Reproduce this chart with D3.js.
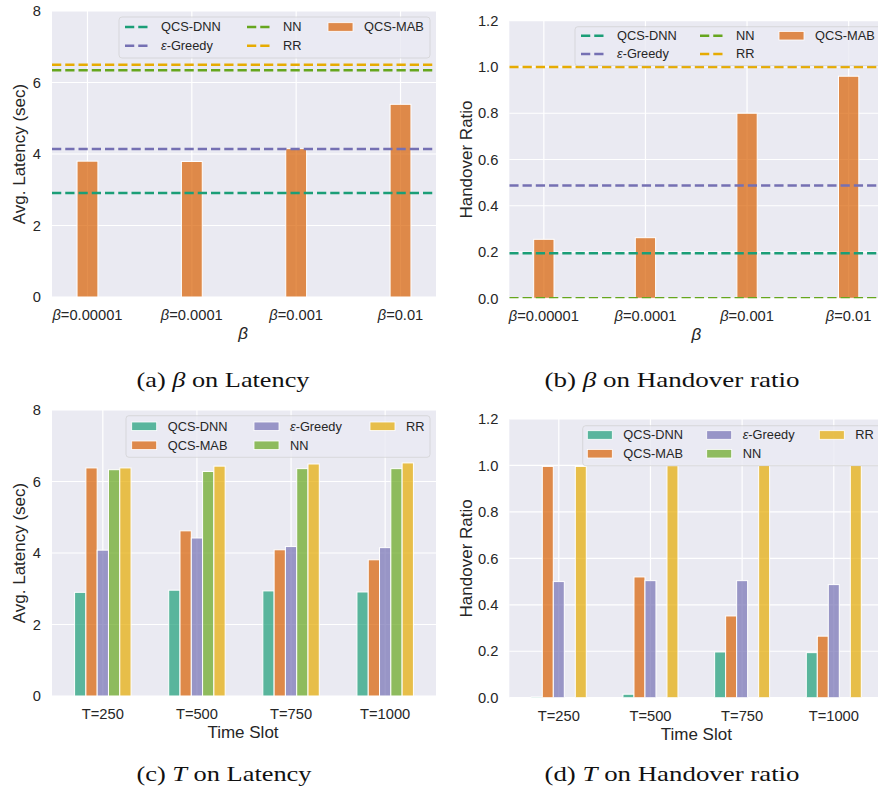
<!DOCTYPE html>
<html>
<head>
<meta charset="utf-8">
<script src="https://cdnjs.cloudflare.com/ajax/libs/d3/7.8.5/d3.min.js"></script>
<style>
  body { margin: 0; background: #fff; }
  svg { display: block; }
  text { font-family: "Liberation Sans", Arial, sans-serif; fill: #262626; }
  .cap { font-family: "Liberation Serif", "Times New Roman", serif; fill: #111; }
</style>
</head>
<body>
<svg id="fig" width="878" height="794"></svg>
<script>
// ---- data ----
const methods = ["QCS-DNN", "QCS-MAB", "ε-Greedy", "NN", "RR"]
const palette = ["#1b9e77", "#d95f02", "#7570b3", "#66a61e", "#e6ab02"]

const betaCats = ["0.00001", "0.0001", "0.001", "0.01"]
const timeCats = ["T=250", "T=500", "T=750", "T=1000"]

// (a)/(b): QCS-MAB bars per beta, baselines as horizontal reference lines
const refMethods = ["QCS-DNN", "ε-Greedy", "NN", "RR"]
const betaLatencyMAB = [3.80, 3.79, 4.15, 5.39]
const betaLatencyRefs = [2.91, 4.14, 6.34, 6.50]
const betaHandoverMAB = [0.255, 0.262, 0.80, 0.96]
const betaHandoverRefs = [0.195, 0.488, 0.0, 1.0]

// (c) latency per time slot
const latDNN = [2.90, 2.96, 2.94, 2.91]
const latMAB = [6.38, 4.62, 4.09, 3.81]
const latEps = [4.08, 4.42, 4.18, 4.15]
const latNN = [6.33, 6.28, 6.36, 6.36]
const latRR = [6.38, 6.43, 6.49, 6.52]

// (d) handover ratio per time slot
const hoDNN = [0.003, 0.015, 0.197, 0.194]
const hoMAB = [0.996, 0.52, 0.352, 0.265]
const hoEps = [0.50, 0.504, 0.504, 0.487]
const hoNN = [0, 0, 0, 0]
const hoRR = [0.996, 0.999, 1.0, 1.0]

const latTicks = [0, 2, 4, 6, 8]
const hoTicks = [0, 0.2, 0.4, 0.6, 0.8, 1.0, 1.2]

const svg = d3.select("#fig")
const defs = svg.append("defs")
const colorOf = d3.scaleOrdinal().domain(methods).range(palette)
let panelCount = 0

function greekLabel(sel, greek, rest) {
  sel.append("tspan").attr("font-style", "italic").text(greek)
  sel.append("tspan").text(rest)
}

function methodLabel(sel, name) {
  if (name.startsWith("ε")) greekLabel(sel, "ε", name.slice(1))
  else sel.text(name)
}

function drawAxes(cfg) {
  const g = svg.append("g")
  const x = d3.scaleLinear().domain(cfg.xDomain).range([cfg.left, cfg.left + cfg.width])
  const y = d3.scaleLinear().domain([0, cfg.yMax]).range([cfg.bottom, cfg.top])

  const clipId = "clip" + (panelCount++)
  defs.append("clipPath").attr("id", clipId).append("rect")
    .attr("x", cfg.left).attr("y", cfg.top)
    .attr("width", cfg.width).attr("height", cfg.bottom - cfg.top)

  g.append("rect")
    .attr("x", cfg.left).attr("y", cfg.top)
    .attr("width", cfg.width).attr("height", cfg.bottom - cfg.top)
    .attr("fill", "#eaeaf2")

  g.selectAll(".hgrid").data(cfg.yTicks).join("line")
    .attr("x1", cfg.left).attr("x2", cfg.left + cfg.width)
    .attr("y1", d => y(d)).attr("y2", d => y(d))
    .attr("stroke", "#fff").attr("stroke-width", 1.2)

  g.selectAll(".vgrid").data(d3.range(cfg.cats.length)).join("line")
    .attr("x1", d => x(d)).attr("x2", d => x(d))
    .attr("y1", cfg.top).attr("y2", cfg.bottom)
    .attr("stroke", "#fff").attr("stroke-width", 1.2)

  const yAxis = d3.axisLeft(y).tickValues(cfg.yTicks).tickSize(0).tickPadding(11)
    .tickFormat(cfg.yFmt)
  g.append("g").attr("transform", `translate(${cfg.left},0)`).call(yAxis)
    .call(a => a.select(".domain").remove())
    .selectAll("text").attr("font-size", 14.7).attr("font-family", null).attr("fill", "#262626")

  const xt = g.selectAll(".xtick").data(cfg.cats).join("text")
    .attr("x", (d, i) => x(i)).attr("y", cfg.bottom + 23)
    .attr("text-anchor", "middle").attr("font-size", 14.7)
  xt.each(function (d) {
    const t = d3.select(this)
    if (cfg.betaTicks) greekLabel(t, "β", "=" + d)
    else t.text(d)
  })

  g.append("text")
    .attr("transform", `translate(${cfg.yLabelX},${(cfg.top + cfg.bottom) / 2}) rotate(-90)`)
    .attr("text-anchor", "middle").attr("dy", "0.35em").attr("font-size", 17)
    .text(cfg.yLabel)

  const xl = g.append("text")
    .attr("x", cfg.left + cfg.xLabelDx).attr("y", cfg.bottom + 42)
    .attr("text-anchor", "middle").attr("font-size", 17)
  if (cfg.betaTicks) xl.attr("font-style", "italic").text("β")
  else xl.text("Time Slot")

  const plot = g.append("g").attr("clip-path", `url(#${clipId})`)
  return { g, plot, x, y }
}

function drawLegend(g, cfg, items) {
  const lg = g.append("g").attr("transform", `translate(${cfg.lx},${cfg.ly})`)
  lg.append("rect")
    .attr("width", cfg.lw).attr("height", cfg.lh).attr("rx", 3)
    .attr("fill", "#eaeaf2").attr("fill-opacity", 0.8)
    .attr("stroke", "#cccccc").attr("stroke-opacity", 0.8).attr("stroke-width", 0.8)
  items.forEach((it, k) => {
    const col = Math.floor(k / 2), row = k % 2
    const hx = cfg.cols[col], hy = cfg.rows[row]
    if (it.kind === "line") {
      lg.append("line")
        .attr("x1", hx).attr("x2", hx + 25).attr("y1", hy).attr("y2", hy)
        .attr("stroke", colorOf(it.name)).attr("stroke-width", 2.5)
        .attr("stroke-dasharray", "9.25,4")
    } else {
      lg.append("rect")
        .attr("x", hx).attr("y", hy - 4.3).attr("width", 25).attr("height", 8.6)
        .attr("fill", colorOf(it.name)).attr("fill-opacity", 0.7)
        .attr("stroke", "#fff").attr("stroke-width", 0.8)
    }
    lg.append("text")
      .attr("x", hx + 36).attr("y", hy).attr("dy", "0.35em")
      .attr("font-size", 12.8)
      .call(t => methodLabel(t, it.name))
  })
}

function betaPanel(cfg, mab, refs) {
  const { g, plot, x, y } = drawAxes(cfg)
  const bw = 0.2
  plot.selectAll(".bar").data(mab).join("rect")
    .attr("x", (d, i) => x(i - bw / 2))
    .attr("width", x(bw) - x(0))
    .attr("y", d => y(d)).attr("height", d => y(0) - y(d))
    .attr("fill", colorOf("QCS-MAB")).attr("fill-opacity", 0.7)
    .attr("stroke", "#fff").attr("stroke-width", 1)
  plot.selectAll(".ref").data(refs).join("line")
    .attr("x1", cfg.left).attr("x2", cfg.left + cfg.width)
    .attr("y1", d => y(d)).attr("y2", d => y(d))
    .attr("stroke", (d, i) => colorOf(refMethods[i])).attr("stroke-width", 2.5)
    .attr("stroke-dasharray", "9.25,4")
  const items = refMethods.map(n => ({ name: n, kind: "line" }))
    .concat([{ name: "QCS-MAB", kind: "bar" }])
  drawLegend(g, cfg, items)
}

function timePanel(cfg, series) {
  const { g, plot, x, y } = drawAxes(cfg)
  const bw = 0.12
  series.forEach((vals, m) => {
    plot.append("g").selectAll("rect").data(vals).join("rect")
      .attr("x", (d, i) => x(i + (m - 2) * bw - bw / 2))
      .attr("width", x(bw) - x(0))
      .attr("y", d => y(d)).attr("height", d => y(0) - y(d))
      .attr("fill", palette[m]).attr("fill-opacity", 0.7)
      .attr("stroke", "#fff").attr("stroke-width", 1)
  })
  drawLegend(g, cfg, methods.map(n => ({ name: n, kind: "bar" })))
}

betaPanel({
  left: 52, width: 384, top: 11, bottom: 297, xDomain: [-0.34, 3.34],
  yMax: 8, yTicks: latTicks, yFmt: d3.format("d"), cats: betaCats, betaTicks: true,
  yLabel: "Avg. Latency (sec)", yLabelX: 19.5, xLabelDx: 191,
  lx: 119, ly: 17, lw: 311, lh: 41, cols: [6, 128, 209], rows: [10, 28.7]
}, betaLatencyMAB, betaLatencyRefs)

betaPanel({
  left: 509.3, width: 373.9, top: 20.7, bottom: 298.3, xDomain: [-0.34, 3.34],
  yMax: 1.2, yTicks: hoTicks, yFmt: d3.format(".1f"), cats: betaCats, betaTicks: true,
  yLabel: "Handover Ratio", yLabelX: 466, xLabelDx: 187,
  lx: 575, ly: 26.7, lw: 311, lh: 39, cols: [6, 125, 204], rows: [9, 27.3]
}, betaHandoverMAB, betaHandoverRefs)

timePanel({
  left: 52, width: 384, top: 410, bottom: 696, xDomain: [-0.54, 3.54],
  yMax: 8, yTicks: latTicks, yFmt: d3.format("d"), cats: timeCats, betaTicks: false,
  yLabel: "Avg. Latency (sec)", yLabelX: 19.5, xLabelDx: 191,
  lx: 126, ly: 415.7, lw: 304, lh: 41.6, cols: [5.7, 128, 244], rows: [10.6, 29.6]
}, [latDNN, latMAB, latEps, latNN, latRR])

timePanel({
  left: 509.3, width: 374, top: 419, bottom: 697.7, xDomain: [-0.54, 3.54],
  yMax: 1.2, yTicks: hoTicks, yFmt: d3.format(".1f"), cats: timeCats, betaTicks: false,
  yLabel: "Handover Ratio", yLabelX: 466, xLabelDx: 187,
  lx: 582.7, ly: 425.7, lw: 300, lh: 40, cols: [4.6, 124, 236.6], rows: [9.3, 28]
}, [hoDNN, hoMAB, hoEps, hoNN, hoRR])

// sub-figure captions
const captions = [
  { x: 223, y: 387, tag: "(a) ", sym: "β", rest: " on Latency", w: 173 },
  { x: 672, y: 387, tag: "(b) ", sym: "β", rest: " on Handover ratio", w: 255 },
  { x: 224, y: 781, tag: "(c) ", sym: "T", rest: " on Latency", w: 175 },
  { x: 672, y: 781, tag: "(d) ", sym: "T", rest: " on Handover ratio", w: 255 }
]
captions.forEach(c => {
  const t = svg.append("text").attr("class", "cap")
    .attr("x", c.x).attr("y", c.y).attr("text-anchor", "middle")
    .attr("font-size", 21)
    .attr("textLength", c.w).attr("lengthAdjust", "spacingAndGlyphs")
  t.append("tspan").text(c.tag)
  t.append("tspan").attr("font-style", "italic").text(c.sym)
  t.append("tspan").text(c.rest)
})
</script>
</body>
</html>
